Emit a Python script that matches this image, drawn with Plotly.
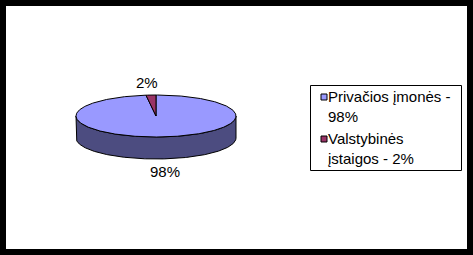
import numpy as np
import textwrap
import plotly.graph_objects as go

# ---- data ----
categories = ["Privačios įmonės", "Valstybinės įstaigos"]
values = [98, 2]
top_colors = ["#9999FF", "#993366"]
side_colors = ["#4C4C80", "#4D1A33"]

W, H = 473, 255
FONT = "Liberation Sans, Arial, sans-serif"
FS = 15

# pie geometry (pixel space)
cx, cy, rx, ry, depth = 156, 116, 80, 21, 22

fig = go.Figure()

total = sum(values)
fracs = [v / total for v in values]
cum = np.concatenate([[0], np.cumsum(fracs)])


def ell(theta_deg, dy=0.0):
    t = np.radians(theta_deg)
    return cx + rx * np.cos(t), cy - ry * np.sin(t) + dy


# sides first (front-visible parts)
for i, f in enumerate(fracs):
    a0 = 90 - cum[i] * 360
    a1 = 90 - cum[i + 1] * 360
    th = np.linspace(a0, a1, 721)
    vis = np.sin(np.radians(th)) <= 1e-9
    idx = np.where(vis)[0]
    if len(idx) == 0:
        continue
    runs = np.split(idx, np.where(np.diff(idx) > 1)[0] + 1)
    for r in runs:
        tt = th[r]
        xt, yt = ell(tt)
        xb, yb = ell(tt[::-1], depth)
        xs = np.concatenate([xt, xb, xt[:1]])
        ys = np.concatenate([yt, yb, yt[:1]])
        fig.add_trace(go.Scatter(x=xs, y=ys, mode="lines", fill="toself",
                                 fillcolor=side_colors[i],
                                 line=dict(color="black", width=1),
                                 hoverinfo="skip", showlegend=False))

# tops
for i, f in enumerate(fracs):
    a0 = 90 - cum[i] * 360
    a1 = 90 - cum[i + 1] * 360
    th = np.linspace(a0, a1, max(3, int(abs(a1 - a0) * 2)))
    xa, ya = ell(th)
    xs = np.concatenate([[cx], xa, [cx]])
    ys = np.concatenate([[cy], ya, [cy]])
    fig.add_trace(go.Scatter(x=xs, y=ys, mode="lines", fill="toself",
                             fillcolor=top_colors[i],
                             line=dict(color="black", width=1),
                             hoverinfo="skip", showlegend=False))

# data labels
for i, v in enumerate(values):
    mid = 90 - (cum[i] + cum[i + 1]) / 2 * 360
    t = np.radians(mid)
    off = 13
    lx = cx + (rx + off) * np.cos(t)
    s = np.sin(t)
    ly = cy - (ry + off) * s + (depth if s < 0 else 0)
    lx += -3 if s > 0 else 3
    fig.add_annotation(x=lx, y=ly, text=f"{v}%", showarrow=False,
                       xanchor="center", yanchor="middle",
                       font=dict(family=FONT, size=FS, color="black"))

# legend (custom, Excel style)
leg_x0, leg_y0, leg_x1, leg_y1 = 310, 85, 461, 170
fig.add_shape(type="rect", x0=leg_x0 + 0.5, x1=leg_x1 + 0.5, y0=leg_y0 + 0.5, y1=leg_y1 + 0.5,
              line=dict(color="black", width=1), fillcolor="white", layer="below")
entry_tops = [88, 130]
for i, (c, v) in enumerate(zip(categories, values)):
    label = "<br>".join(textwrap.wrap(f"{c} - {v}%", width=18))
    ty = entry_tops[i]
    my = ty + 9
    fig.add_shape(type="rect", x0=321, x1=327, y0=my - 3, y1=my + 3,
                  line=dict(color="black", width=1), fillcolor=top_colors[i])
    fig.add_annotation(x=326, y=ty - 2, text=label, showarrow=False,
                       xanchor="left", yanchor="top", align="left",
                       font=dict(family=FONT, size=FS, color="black"))

# outer frame
fig.add_shape(type="rect", x0=3, x1=W - 3, y0=3, y1=H - 3,
              line=dict(color="black", width=6))

fig.update_layout(
    width=W, height=H, autosize=False,
    margin=dict(l=0, r=0, t=0, b=0, pad=0),
    paper_bgcolor="white", plot_bgcolor="white",
    xaxis=dict(range=[0, W], visible=False, fixedrange=True),
    yaxis=dict(range=[H, 0], visible=False, fixedrange=True),
    showlegend=False,
)

fig.write_html("out.html")
